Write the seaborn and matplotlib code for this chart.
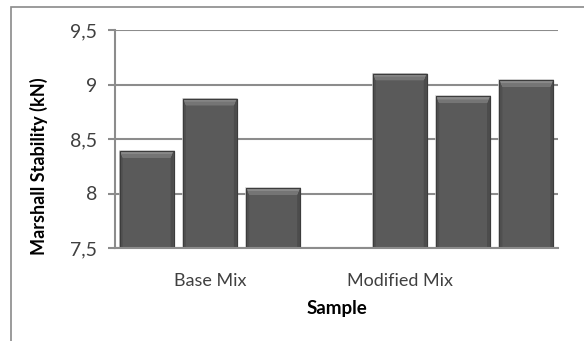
import matplotlib
matplotlib.use("Agg")
import matplotlib.pyplot as plt
import seaborn as sns
import pandas as pd
from matplotlib.patches import Rectangle, Polygon

# ---- data ----
samples = ["B1", "B2", "B3", "M1", "M2", "M3"]
groups = ["Base Mix", "Base Mix", "Base Mix", "Modified Mix", "Modified Mix", "Modified Mix"]
stability = [8.39, 8.87, 8.05, 9.10, 8.89, 9.04]
slot_order = ["B1", "B2", "B3", "", "M1", "M2", "M3"]
group_labels = ["Base Mix", "Modified Mix"]
group_label_slots = ["B2", "M1"]
yticks = [7.5, 8.0, 8.5, 9.0, 9.5]
ytick_labels = ["7,5", "8", "8,5", "9", "9,5"]

df = pd.DataFrame({"Sample": samples, "Group": groups, "Stability": stability})

sns.set_theme(style="white")
plt.rcParams["font.family"] = ["Lato", "DejaVu Sans"]

W, H = 584, 341
fig = plt.figure(figsize=(W / 100, H / 100), dpi=100)
fig.patch.set_facecolor("white")
ax = fig.add_axes([115 / W, 1 - 248 / H, (558 - 115) / W, (248 - 30) / H])

sns.barplot(data=df, x="Sample", y="Stability", order=slot_order,
            color="#5a5a5a", width=0.85, saturation=1, ax=ax,
            edgecolor="#3c3c3c", linewidth=0.8, zorder=3)

ax.set_ylim(7.5, 9.5)
ax.set_xlim(-0.5, len(slot_order) - 0.5)
ax.set_yticks(yticks)
ax.set_yticklabels(ytick_labels, fontsize=14, color="#404040")
ax.set_xticks([slot_order.index(s) for s in group_label_slots])
ax.set_xticklabels(group_labels, fontsize=13, color="#404040")
ax.tick_params(axis="x", length=0, pad=18)
ax.tick_params(axis="y", length=5, width=1.5, color="#8c8c8c", pad=8, direction="out", left=True)

ax.grid(axis="y", color="#8c8c8c", linewidth=1.5, zorder=0)
ax.set_axisbelow(True)
for s in ["top", "right"]:
    ax.spines[s].set_visible(False)
ax.spines["left"].set_color("#8c8c8c")
ax.spines["left"].set_linewidth(1.5)
ax.spines["bottom"].set_color("#8c8c8c")
ax.spines["bottom"].set_linewidth(1.5)
ax.spines["bottom"].set_zorder(5)

ax.set_ylabel("Marshall Stability (kN)", fontsize=13, fontweight="bold", color="black", labelpad=15.5)
ax.yaxis.label.set_y(0.376)
ax.set_xlabel("Sample", fontsize=13.5, fontweight="bold", color="black", labelpad=8)

# bevel and shadow derived from drawn bars
for p in list(ax.patches):
    x0, y0 = p.get_x(), p.get_y()
    w, h = p.get_width(), p.get_height()
    if h == 0 or pd.isna(h):
        continue
    top = y0 + h
    dx = w * 0.055
    dy = 0.06
    # soft shadow
    ax.add_patch(Rectangle((x0 - w * 0.02, y0), w * 1.04, h + 0.01, facecolor="#d8d8d8",
                           edgecolor="none", zorder=2.5, alpha=0.8))
    # top bevel
    ax.add_patch(Polygon([(x0, top), (x0 + w, top), (x0 + w - dx, top - dy), (x0 + dx, top - dy)],
                         closed=True, facecolor="#8a8a8a", edgecolor="none", zorder=3.5))
    ax.add_patch(Polygon([(x0 + dx * 0.5, top - dy * 0.45), (x0 + w - dx * 0.5, top - dy * 0.45),
                          (x0 + w - dx, top - dy), (x0 + dx, top - dy)],
                         closed=True, facecolor="#757575", edgecolor="none", zorder=3.6))
    # side bevels
    ax.add_patch(Polygon([(x0, top), (x0 + dx, top - dy), (x0 + dx, y0), (x0, y0)],
                         closed=True, facecolor="#505050", edgecolor="none", zorder=3.4))
    ax.add_patch(Polygon([(x0 + w, top), (x0 + w - dx, top - dy), (x0 + w - dx, y0), (x0 + w, y0)],
                         closed=True, facecolor="#4c4c4c", edgecolor="none", zorder=3.4))
    ax.add_patch(Rectangle((x0, y0), w, h, facecolor="none", edgecolor="#3c3c3c",
                           linewidth=0.8, zorder=3.7))

# outer chart border
fig.add_artist(Rectangle((11 / W, -0.1), 1.2, 1 - 7 / H + 0.1, transform=fig.transFigure,
                         facecolor="none", edgecolor="#8a8a8a", linewidth=1.2))

fig.savefig("out.png", dpi=100, facecolor="white")
